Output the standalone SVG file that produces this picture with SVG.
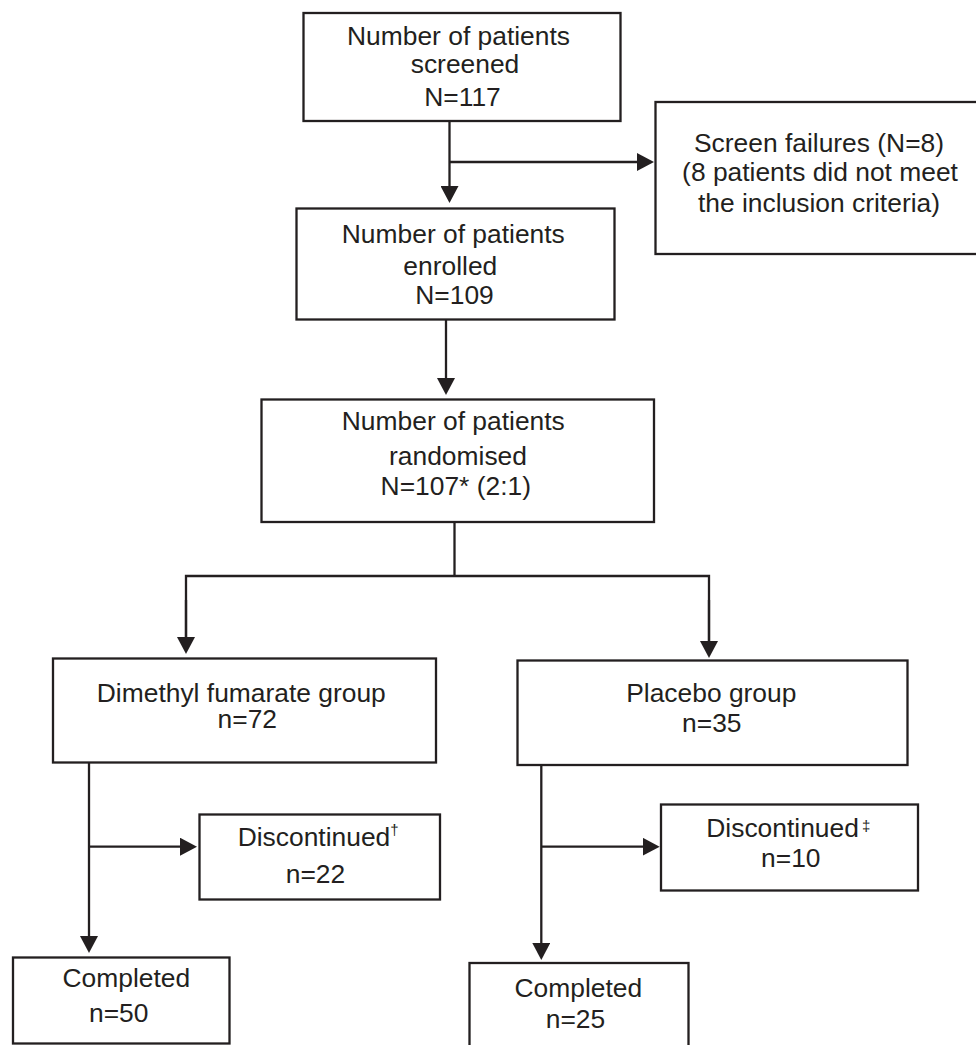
<svg xmlns="http://www.w3.org/2000/svg" width="976" height="1045" viewBox="0 0 976 1045">
<style>
.box{fill:#fff;stroke:#231f20;stroke-width:2.3}
.t{font-family:"Liberation Sans",Arial,sans-serif;font-size:26.4px;fill:#231f20;text-anchor:middle}
.ts{text-anchor:start}
.c{fill:none;stroke:#231f20;stroke-width:2.3}
</style>
<defs>
<marker id="ah" markerUnits="userSpaceOnUse" viewBox="0 0 17 18" refX="13" refY="9" markerWidth="17" markerHeight="18" orient="auto">
<path d="M0,0 L17,9 L0,18 z" fill="#231f20"/>
</marker>
</defs>
<rect width="976" height="1045" fill="#fff"/>
<g id="connectors">
<line class="c" x1="449.5" y1="121" x2="449.5" y2="199" marker-end="url(#ah)"/>
<line class="c" x1="449.5" y1="162" x2="650" y2="162" marker-end="url(#ah)"/>
<line class="c" x1="446" y1="319" x2="446" y2="391" marker-end="url(#ah)"/>
<polyline class="c" points="454.5,522 454.5,576"/>
<polyline class="c" points="186,650 186,576 709,576 709,654" />
<line class="c" x1="186" y1="600" x2="186" y2="650" marker-end="url(#ah)"/>
<line class="c" x1="709" y1="600" x2="709" y2="654" marker-end="url(#ah)"/>
<line class="c" x1="89" y1="762" x2="89" y2="949" marker-end="url(#ah)"/>
<line class="c" x1="89" y1="846.7" x2="193" y2="846.7" marker-end="url(#ah)"/>
<line class="c" x1="541.3" y1="765" x2="541.3" y2="956" marker-end="url(#ah)"/>
<line class="c" x1="541.3" y1="846.7" x2="655.7" y2="846.7" marker-end="url(#ah)"/>
</g>
<g id="screened">
<rect class="box" x="303.5" y="13" width="317" height="108"/>
<text class="t" x="458.5" y="45">Number of patients</text>
<text class="t" x="465" y="72.7">screened</text>
<text class="t" x="462.5" y="106">N=117</text>
</g>
<g id="screen-failures">
<rect class="box" x="655.5" y="102" width="328" height="152"/>
<text class="t" x="819" y="151.7">Screen failures (N=8)</text>
<text class="t" x="820" y="180.7">(8 patients did not meet</text>
<text class="t" x="819" y="211.7">the inclusion criteria)</text>
</g>
<g id="enrolled">
<rect class="box" x="296.5" y="208.5" width="318" height="111"/>
<text class="t" x="453.3" y="242.7">Number of patients</text>
<text class="t" x="450.3" y="275">enrolled</text>
<text class="t" x="454.5" y="304">N=109</text>
</g>
<g id="randomised">
<rect class="box" x="261.5" y="399.5" width="392.5" height="122.5"/>
<text class="t" x="453.3" y="430">Number of patients</text>
<text class="t" x="458" y="465">randomised</text>
<text class="t" x="455.8" y="495">N=107* (2:1)</text>
</g>
<g id="dmf-group">
<rect class="box" x="53" y="658.5" width="383" height="104"/>
<text class="t" x="241.3" y="701.7">Dimethyl fumarate group</text>
<text class="t" x="247.3" y="728.3">n=72</text>
</g>
<g id="placebo-group">
<rect class="box" x="517.5" y="660.5" width="390" height="104.5"/>
<text class="t" x="711.3" y="701.7">Placebo group</text>
<text class="t" x="711.8" y="731.7">n=35</text>
</g>
<g id="dmf-discontinued">
<rect class="box" x="199.5" y="814.5" width="240.5" height="85"/>
<text class="t ts" x="237.7" y="846">Discontinued<tspan font-size="15" dy="-11">†</tspan></text>
<text class="t" x="315.5" y="883.3">n=22</text>
</g>
<g id="placebo-discontinued">
<rect class="box" x="661" y="804.5" width="257" height="86"/>
<text class="t ts" x="706.3" y="836.7">Discontinued<tspan font-size="15" dx="3" dy="-6">‡</tspan></text>
<text class="t" x="790.8" y="866.7">n=10</text>
</g>
<g id="dmf-completed">
<rect class="box" x="13" y="957.5" width="216.5" height="86"/>
<text class="t" x="126.3" y="986.7">Completed</text>
<text class="t" x="118.7" y="1021.7">n=50</text>
</g>
<g id="placebo-completed">
<rect class="box" x="469.5" y="963" width="219" height="90"/>
<text class="t" x="578.3" y="996.7">Completed</text>
<text class="t" x="575.5" y="1028.3">n=25</text>
</g>
</svg>
